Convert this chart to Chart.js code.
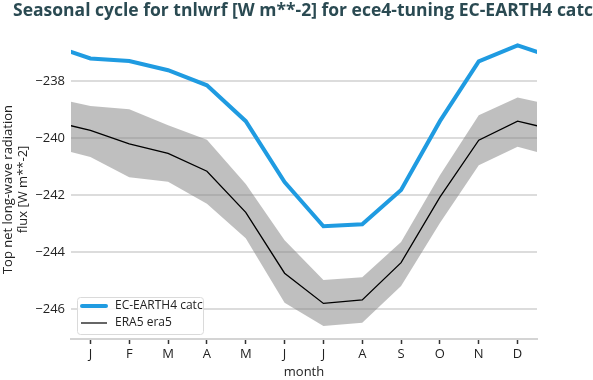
<!DOCTYPE html>
<html lang="en">
  <head>
    <meta charset="UTF-8" />
    <title>Seasonal cycle tnlwrf</title>
    <script src="https://cdn.jsdelivr.net/npm/chart.js"></script>
    <style>
      body { margin: 0; background: #fff; }
      #wrap { width: 593px; height: 380px; }
    </style>
  </head>
  <body>
    <div id="wrap"><canvas id="cycleChart" width="593" height="380"></canvas></div>

    <script>
      const months = ["J", "F", "M", "A", "M", "J", "J", "A", "S", "O", "N", "D"];
      const yTicks = [-238, -240, -242, -244, -246];

      // monthly means
      const ecEarth = [-237.2, -237.29, -237.61, -238.14, -239.4, -241.54, -243.09, -243.02, -241.82, -239.4, -237.3, -236.74];
      const era5 = [-239.72, -240.2, -240.53, -241.16, -242.6, -244.74, -245.8, -245.68, -244.37, -242.07, -240.07, -239.4];
      const era5Upper = [-238.87, -238.98, -239.54, -240.05, -241.61, -243.58, -244.98, -244.88, -243.64, -241.3, -239.19, -238.57];
      const era5Lower = [-240.66, -241.37, -241.53, -242.3, -243.51, -245.78, -246.59, -246.48, -245.19, -242.98, -240.95, -240.3];

      const legendItems = ["EC-EARTH4 catc", "ERA5 era5"];
      const titleText = "Seasonal cycle for tnlwrf [W m**-2] for ece4-tuning EC-EARTH4 catc";

      // wrap Dec before Jan and Jan after Dec so the lines run to the edges
      function wrapped(arr) {
        const pts = [{ x: 0, y: arr[11] }];
        arr.forEach((v, i) => pts.push({ x: i + 1, y: v }));
        pts.push({ x: 13, y: arr[0] });
        return pts;
      }

      const titlePlugin = {
        id: "topTitle",
        afterDraw(chart) {
          const ctx = chart.ctx;
          ctx.save();
          ctx.font = "bold 17.5px 'Open Sans'";
          ctx.fillStyle = "#2a4a52";
          ctx.textBaseline = "middle";
          ctx.fillText(titleText, 13, 11);
          ctx.restore();
        },
      };

      const legendPlugin = {
        id: "innerLegend",
        afterDatasetsDraw(chart) {
          const ctx = chart.ctx;
          const a = chart.chartArea;
          const x0 = a.left + 6;
          const y0 = a.bottom - 42;
          ctx.save();
          ctx.fillStyle = "rgba(255,255,255,0.85)";
          ctx.strokeStyle = "#dadada";
          ctx.lineWidth = 1;
          ctx.beginPath();
          ctx.roundRect(x0 + 0.5, y0 + 0.5, 126, 37, 3);
          ctx.fill();
          ctx.stroke();
          ctx.font = "12px 'Open Sans'";
          ctx.fillStyle = "#222";
          ctx.textBaseline = "middle";
          ctx.lineCap = "round";
          ctx.strokeStyle = "#1f9be1";
          ctx.lineWidth = 4;
          ctx.beginPath();
          ctx.moveTo(x0 + 5, y0 + 9);
          ctx.lineTo(x0 + 29, y0 + 9);
          ctx.stroke();
          ctx.lineCap = "butt";
          ctx.strokeStyle = "#000";
          ctx.lineWidth = 1.2;
          ctx.beginPath();
          ctx.moveTo(x0 + 4, y0 + 26);
          ctx.lineTo(x0 + 30, y0 + 26);
          ctx.stroke();
          ctx.fillText(legendItems[0], x0 + 38, y0 + 9);
          ctx.fillText(legendItems[1], x0 + 38, y0 + 26);
          ctx.restore();
        },
      };

      const ctx = document.getElementById("cycleChart").getContext("2d");
      new Chart(ctx, {
        type: "line",
        data: {
          datasets: [
            {
              data: wrapped(ecEarth),
              borderColor: "#1f9be1",
              borderWidth: 4,
              pointRadius: 0,
              fill: false,
              order: 0,
            },
            {
              data: wrapped(era5),
              borderColor: "#000",
              borderWidth: 1.3,
              pointRadius: 0,
              fill: false,
              order: 1,
            },
            {
              data: wrapped(era5Upper),
              borderWidth: 0,
              pointRadius: 0,
              fill: false,
              order: 2,
            },
            {
              data: wrapped(era5Lower),
              borderWidth: 0,
              pointRadius: 0,
              backgroundColor: "rgba(128,128,128,0.5)",
              fill: "-1",
              order: 2,
            },
          ],
        },
        options: {
          responsive: false,
          animation: false,
          layout: { padding: { top: 40, right: 56, left: 0, bottom: 0 } },
          plugins: {
            legend: { display: false },
            tooltip: { enabled: false },
          },
          scales: {
            x: {
              type: "linear",
              min: 0.5,
              max: 12.5,
              afterBuildTicks: (s) => {
                s.ticks = months.map((m, i) => ({ value: i + 1 }));
              },
              afterFit: (s) => {
                s.height = 41;
              },
              ticks: {
                callback: (v) => months[v - 1],
                color: "#222",
                font: { family: "Open Sans", size: 13 },
                padding: 2,
                maxRotation: 0,
                autoSkip: false,
              },
              grid: {
                drawOnChartArea: false,
                drawTicks: true,
                tickLength: 5,
                tickColor: "#333",
                tickWidth: 1.5,
              },
              border: { display: true, color: "#d4d4d4", width: 2 },
              title: {
                display: true,
                text: "month",
                color: "#222",
                font: { family: "Open Sans", size: 13 },
                padding: { top: 0, bottom: 0 },
              },
            },
            y: {
              min: -247.05,
              max: -236.55,
              afterBuildTicks: (s) => {
                s.ticks = yTicks.map((v) => ({ value: v }));
              },
              afterFit: (s) => {
                s.width = 71;
              },
              ticks: {
                callback: (v) => "\u2212" + Math.abs(v),
                color: "#222",
                font: { family: "Open Sans", size: 13 },
                padding: 6,
              },
              grid: { color: "#dcdcdc", lineWidth: 2, drawTicks: false },
              border: { display: false },
              title: {
                display: true,
                text: ["Top net long-wave radiation", "flux [W m**-2]"],
                color: "#222",
                font: { family: "Open Sans", size: 13 },
                padding: { top: 0, bottom: 0 },
              },
            },
          },
        },
        plugins: [titlePlugin, legendPlugin],
      });
    </script>
  </body>
</html>
